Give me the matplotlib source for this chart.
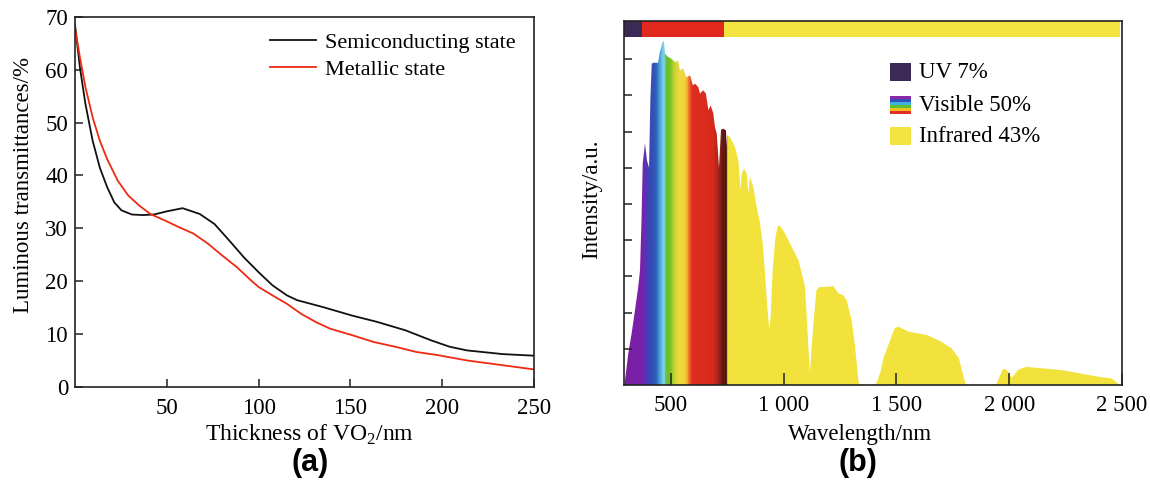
import numpy as np
import matplotlib
matplotlib.use("Agg")
import matplotlib.pyplot as plt
from matplotlib.colors import LinearSegmentedColormap
from matplotlib.patches import Polygon, Rectangle

plt.rcParams["font.family"] = ["Liberation Serif", "DejaVu Serif"]
plt.rcParams["mathtext.fontset"] = "custom"
plt.rcParams["mathtext.rm"] = "Liberation Serif"

# (a) luminous transmittance vs VO2 film thickness
semi_x = [0, 2.7, 5.7, 9.6, 13.5, 17.5, 21.4, 25.3, 31, 37, 43, 50, 58.6, 68, 76,
          84, 92, 100, 107.6, 115.5, 121, 135, 150.8, 164.5, 180, 194, 204,
          213.5, 233, 250]
semi_y = [68.5, 60.4, 53.5, 46.6, 41.5, 37.8, 34.9, 33.4, 32.6, 32.5, 32.6, 33.2,
          33.8, 32.7, 30.8, 27.7, 24.5, 21.7, 19.2, 17.3, 16.4, 15.1, 13.5,
          12.3, 10.7, 8.8, 7.6, 6.9, 6.2, 5.9]

metal_x = [0, 2.7, 5.7, 9.6, 13.5, 17.5, 23.3, 29, 35, 41, 48.8, 56.7, 64.5,
           72.4, 80, 88, 96, 100, 107.6, 115.5, 123.3, 131, 139, 150.8, 162.6,
           174.3, 186, 197.8, 213.5, 233, 250]
metal_y = [68.0, 62.3, 56.7, 51.0, 46.6, 43.1, 39.0, 36.2, 34.3, 32.7, 31.5,
           30.2, 29.0, 27.1, 24.9, 22.7, 20.1, 18.9, 17.3, 15.7, 13.8, 12.3,
           11.0, 9.8, 8.5, 7.6, 6.6, 6.0, 5.0, 4.1, 3.3]

# (b) solar spectrum envelope (arbitrary units)
wl = [295, 312, 327, 342, 356, 364, 371, 376, 386, 395, 404, 410, 416, 422,
      444, 452, 464, 470, 475, 489, 504, 519, 534, 541, 556, 568, 586, 598,
      608, 622, 630, 644, 656, 667, 677, 689, 696, 704, 714, 723, 733, 745,
      748, 750, 763, 785, 800, 810, 815, 825, 837, 844, 851, 866, 881, 896,
      908, 918, 928, 937, 943, 952, 963, 973, 984, 1007, 1036, 1066, 1081,
      1095, 1103, 1110, 1117, 1125, 1135, 1146, 1161, 1191, 1221, 1243, 1265,
      1280, 1302, 1317, 1332, 1336, 1406, 1415, 1428, 1445, 1493, 1509, 1556,
      1635, 1698, 1745, 1777, 1800, 1809, 1942, 1973, 1990, 2013, 2040, 2075,
      2234, 2393, 2454, 2491]
intensity = [0, 0.87, 1.43, 2.07, 2.71, 3.17, 4.64, 6.12, 6.67, 6.2, 6.0, 7.9,
             8.87, 8.9, 8.9, 9.2, 9.47, 9.5, 9.15, 9.06, 9.01, 8.92, 8.95, 8.69,
             8.74, 8.5, 8.55, 8.28, 8.32, 8.23, 8.05, 8.14, 8.05, 7.59, 7.72,
             7.5, 7.13, 6.94, 6.0, 7.05, 7.08, 7.03, 6.6,
             6.9, 6.85, 6.57, 6.2, 5.38, 5.84, 5.98, 5.84, 5.29, 5.75, 5.47,
             4.92, 4.46, 3.91, 3.08, 2.16, 1.52, 1.89, 3.17, 4.0, 4.37, 4.41,
             4.18, 3.82, 3.45, 3.08, 2.71, 1.88, 1.06, 0.32, 1.06, 1.88, 2.62,
             2.71, 2.71, 2.73, 2.53, 2.48, 2.34, 1.79, 1.06, 0.14, 0.0, 0.0,
             0.1, 0.32, 0.78, 1.57, 1.61, 1.47, 1.38, 1.2, 1.01, 0.74, 0.18,
             0.0, 0.0, 0.45, 0.41, 0.2, 0.42, 0.5, 0.41, 0.23, 0.18, 0.0]

# colour of the spectrum at each wavelength
spec_nm = [293, 372, 382, 400, 430, 440, 452, 462, 470, 476, 495, 510, 530,
           560, 572, 584, 592, 685, 705, 725, 745, 747, 2500]
spec_hex = ["#7a1fa0", "#7b22ac", "#5a32b4", "#3d46b8", "#2c5cb6", "#3c86cc",
            "#50b0e0", "#80d0e8", "#8ad4d0", "#60bc30", "#78c21c", "#c0d030",
            "#eada40", "#f4d23a", "#f4a02c", "#e6482a", "#dd2e1e", "#d82a1c",
            "#b02418", "#6a1c16", "#4a1612", "#f2e23c", "#f2e23c"]

# bands of the top strip and legend
band_edges = [293, 375, 735, 2490]
band_colors = ["#3b2a55", "#e0291c", "#f2e33e"]
band_labels = ["UV 7%", "Visible 50%", "Infrared 43%"]
rainbow = ["#8a2aa8", "#3050c0", "#40b0e0", "#60c030", "#f0c020", "#e03020"]

fig = plt.figure(figsize=(11.5, 4.8), dpi=100)
ax_a = fig.add_axes([0.0652, 0.194, 0.3991, 0.771])
ax_b = fig.add_axes([0.5426, 0.198, 0.4330, 0.758])

for ax in (ax_a, ax_b):
    for sp in ax.spines.values():
        sp.set_linewidth(1.2)
        sp.set_color("#222222")
    ax.tick_params(direction="in", width=1.1, color="#222222",
                   labelsize=16.5, pad=5)

# left panel
ax_a.plot(semi_x, semi_y, color="#111111", lw=1.3, label="Semiconducting state")
ax_a.plot(metal_x, metal_y, color="#ee2a12", lw=1.3, label="Metallic state")
ax_a.set_xlim(0, 250)
ax_a.set_ylim(0, 70)
ax_a.set_xticks([50, 100, 150, 200, 250])
ax_a.set_yticks(range(0, 71, 10))
ax_a.tick_params(length=6)
ax_a.tick_params(axis="x", pad=8)
ax_a.set_xlabel("Thickness of VO$_2$/nm", fontsize=17)
ax_a.xaxis.set_label_coords(0.512, -0.097)
ax_a.set_ylabel("Luminous transmittances/%", fontsize=16.5)
ax_a.yaxis.set_label_coords(-0.09, 0.545)
ax_a.legend(loc="upper left", bbox_to_anchor=(0.395, 0.995), frameon=False,
            fontsize=16, handlelength=2.1, handletextpad=0.4,
            labelspacing=0.3, borderaxespad=0.2)

# right panel: colour gradient clipped to the spectrum outline
cmap = LinearSegmentedColormap.from_list(
    "solar", list(zip((np.array(spec_nm) - 293) / (2500 - 293), spec_hex)))
grid = np.linspace(293, 2500, 3000)[None, :]
ax_b.set_xlim(293, 2500)
ax_b.set_ylim(0, 10.05)
im = ax_b.imshow(grid, cmap=cmap, vmin=293, vmax=2500, aspect="auto",
                 extent=[293, 2500, 0, 10.05], origin="lower",
                 interpolation="bilinear", zorder=1)
outline = np.column_stack([[wl[0]] + wl + [wl[-1]], [0] + intensity + [0]])
poly = Polygon(outline, closed=True, facecolor="none", edgecolor="none")
ax_b.add_patch(poly)
im.set_clip_path(poly)

# top strip showing the three bands
for lo, hi, c in zip(band_edges[:-1], band_edges[1:], band_colors):
    ax_b.add_patch(Rectangle((lo, 9.6), hi - lo, 0.45, facecolor=c,
                             edgecolor="none", zorder=2))

ax_b.set_xticks([500, 1000, 1500, 2000, 2500])
ax_b.set_xticklabels(["500", "1 000", "1 500", "2 000", "2 500"])
ax_b.set_yticks(range(1, 10))
ax_b.set_yticklabels([])
ax_b.tick_params(axis="x", length=9, pad=7)
ax_b.tick_params(axis="y", length=6)
ax_b.set_xlabel("Wavelength/nm", fontsize=16.5)
ax_b.xaxis.set_label_coords(0.475, -0.108)
ax_b.set_ylabel("Intensity/a.u.", fontsize=16.5)
ax_b.yaxis.set_label_coords(-0.044, 0.511)

# legend drawn as patches in axes coordinates
leg_y = [0.86, 0.769, 0.684]
for yy, c, lab in zip(leg_y, band_colors, band_labels):
    if lab.startswith("Visible"):
        h = 0.05 / len(rainbow)
        for i, rc in enumerate(rainbow):
            ax_b.add_patch(Rectangle((0.534, yy + 0.025 - (i + 1) * h), 0.042, h,
                                     transform=ax_b.transAxes, facecolor=rc,
                                     edgecolor="none", zorder=3))
    else:
        ax_b.add_patch(Rectangle((0.534, yy - 0.025), 0.042, 0.05,
                                 transform=ax_b.transAxes, facecolor=c,
                                 edgecolor="none", zorder=3))
    ax_b.text(0.592, yy, lab, transform=ax_b.transAxes, fontsize=16.5,
              va="center", ha="left", zorder=3)

fig.text(0.27, 0.035, "(a)", fontsize=22, fontweight="bold",
         family="Liberation Sans", ha="center", va="center")
fig.text(0.746, 0.035, "(b)", fontsize=22, fontweight="bold",
         family="Liberation Sans", ha="center", va="center")

fig.savefig("out.png", dpi=100)
